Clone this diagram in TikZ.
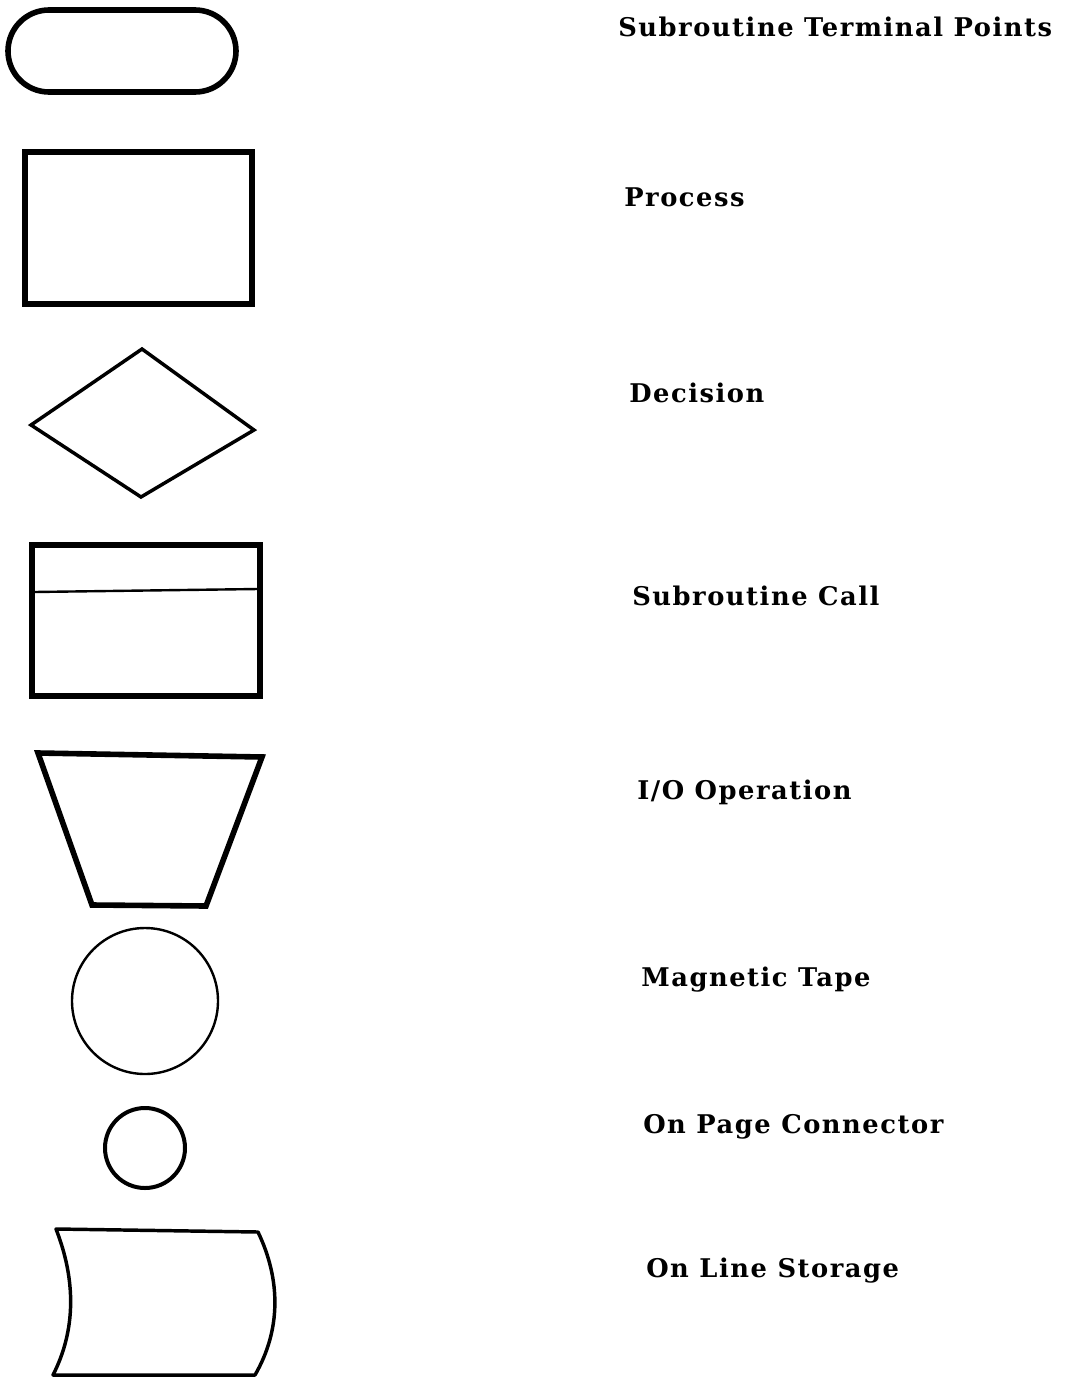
\documentclass[tikz,border=0pt]{standalone}
\usepackage{fontspec}
\setmainfont{DejaVu Serif}[LetterSpace=6]
\begin{document}
\begin{tikzpicture}[x=0.75pt,y=-0.75pt,
  heavy/.style={draw=black,line width=4.2pt,line join=miter},
  medium/.style={draw=black,line width=2.6pt},
  light/.style={draw=black,line width=1.8pt},
  legend/.style={anchor=base west,inner sep=0pt,font=\fontsize{19.3}{23}\selectfont\bfseries}]
\useasboundingbox (0,0) rectangle (1065,1378);
% symbols
\draw[heavy,rounded corners=30.75pt] (8,10) rectangle (236,92);
\draw[heavy] (25,152) rectangle (252,304);
\draw[medium,line join=miter] (31,425) -- (142,349) -- (254,430) -- (141,497) -- cycle;
\draw[heavy] (32,545) rectangle (260,696);
\draw[light] (34,592) -- (258,589);
\draw[heavy] (38,753) -- (262,757) -- (206,906) -- (92,905) -- cycle;
\draw[light] (145,1001) circle[radius=73];
\draw[heavy,line width=3pt] (145,1148) circle[radius=40];
\draw[medium,line join=round] (56,1229) -- (258,1232)
  .. controls (281,1280) and (281,1330) .. (255,1375) -- (53,1375)
  .. controls (76,1330) and (76,1280) .. (56,1229) -- cycle;
% labels
\node[legend] (t1) at (618,36) {Subroutine Terminal Points};
\node[legend] (t2) at (624,206) {Process};
\node[legend] (t3) at (629,402) {Decision};
\node[legend] (t4) at (632,605) {Subroutine Call};
\node[legend] (t5) at (637,799) {I/O Operation};
\node[legend] (t6) at (641,986) {Magnetic Tape};
\node[legend] (t7) at (643,1133) {On Page Connector};
\node[legend] (t8) at (646,1277) {On Line Storage};
\end{tikzpicture}
\end{document}
